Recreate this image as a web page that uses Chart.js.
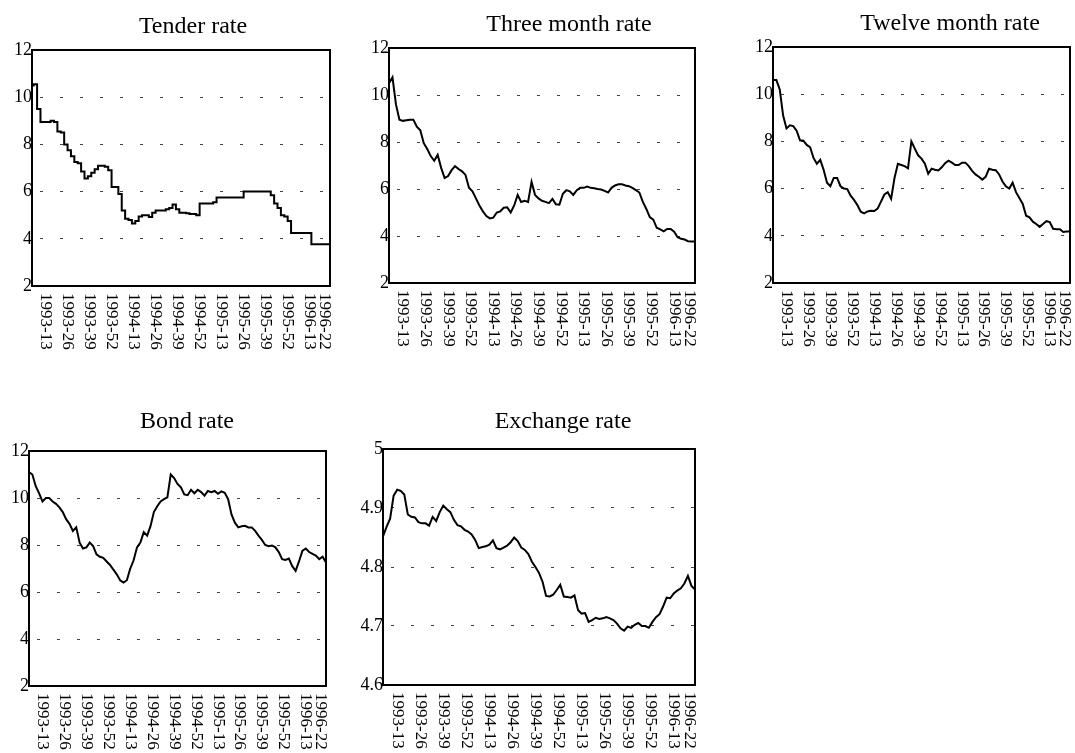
<!DOCTYPE html>
<html>
<head>
<meta charset="utf-8">
<script src="https://cdn.jsdelivr.net/npm/chart.js@4.4.0/dist/chart.umd.min.js"></script>
<style>
  html, body { margin: 0; padding: 0; background: #fff; overflow: hidden; }
  body { width: 1075px; height: 753px; position: relative; }
  canvas { position: absolute; }
</style>
</head>
<body>
<canvas id="tender"></canvas>
<canvas id="three"></canvas>
<canvas id="twelve"></canvas>
<canvas id="bond"></canvas>
<canvas id="exchange"></canvas>
<script>
// weekly series, one reading every second week
const firstWeek = '1993-05';
const lastWeek = '1996-25';
const weekStep = 2;
const tickLabels = ['1993-13', '1993-26', '1993-39', '1993-52', '1994-13', '1994-26', '1994-39',
  '1994-52', '1995-13', '1995-26', '1995-39', '1995-52', '1996-13', '1996-22'];

const rateTicks = [2, 4, 6, 8, 10, 12];
const exchangeTicks = [4.6, 4.7, 4.8, 4.9, 5];

const tenderRate = [
  10.5, 10.55, 9.5, 8.95, 8.95, 8.95, 9.0, 8.95, 8.55, 8.5,
  8.0, 7.75, 7.5, 7.25, 7.2, 6.85, 6.55, 6.65, 6.8, 6.95,
  7.1, 7.1, 7.05, 6.9, 6.2, 6.2, 5.9, 5.2, 4.85, 4.8,
  4.65, 4.75, 4.95, 5.0, 5.0, 4.92, 5.1, 5.2, 5.2, 5.2,
  5.25, 5.3, 5.45, 5.25, 5.1, 5.1, 5.08, 5.05, 5.05, 5.0,
  5.5, 5.5, 5.5, 5.5, 5.55, 5.75, 5.75, 5.75, 5.75, 5.75,
  5.75, 5.75, 5.75, 6.0, 6.0, 6.0, 6.0, 6.0, 6.0, 6.0,
  6.0, 5.85, 5.5, 5.3, 5.0, 4.95, 4.75, 4.25, 4.25, 4.25,
  4.25, 4.25, 4.25, 3.77, 3.77, 3.77, 3.77, 3.77, 3.77
];
const threeMonthRate = [
  10.5, 10.75, 9.6, 8.95, 8.9, 8.93, 8.95, 8.95, 8.65, 8.5,
  7.95, 7.7, 7.4, 7.2, 7.45, 6.9, 6.47, 6.55, 6.8, 6.97,
  6.85, 6.75, 6.6, 6.05, 5.9, 5.6, 5.3, 5.05, 4.85, 4.75,
  4.78, 5.0, 5.05, 5.2, 5.22, 5.0, 5.3, 5.75, 5.45, 5.5,
  5.45, 6.3, 5.75, 5.6, 5.5, 5.45, 5.4, 5.58, 5.35, 5.33,
  5.8, 5.95, 5.9, 5.75, 5.95, 6.05, 6.05, 6.1, 6.05, 6.03,
  6.0, 5.98, 5.92, 5.85, 6.05, 6.15, 6.2, 6.2, 6.15, 6.12,
  6.05, 5.95, 5.85, 5.45, 5.15, 4.8, 4.7, 4.35, 4.28, 4.2,
  4.3, 4.3, 4.18, 3.95, 3.88, 3.85, 3.78, 3.77, 3.77
];
const twelveMonthRate = [
  10.6, 10.6, 10.2, 9.1, 8.55, 8.68, 8.65, 8.45, 8.05, 8.03,
  7.85, 7.75, 7.3, 7.05, 7.22, 6.8, 6.25, 6.1, 6.45, 6.45,
  6.1, 6.0, 5.98, 5.7, 5.52, 5.3, 5.02, 4.95, 5.03, 5.06,
  5.05, 5.15, 5.45, 5.75, 5.85, 5.57, 6.45, 7.05, 7.0, 6.95,
  6.86, 8.0, 7.7, 7.41, 7.27, 7.06, 6.63, 6.84, 6.8, 6.77,
  6.9, 7.08, 7.18, 7.1, 7.0, 7.0, 7.1, 7.1, 6.95, 6.75,
  6.6, 6.5, 6.38, 6.5, 6.84, 6.8, 6.78, 6.6, 6.3, 6.1,
  6.0, 6.25, 5.85, 5.6, 5.35, 4.85, 4.78, 4.6, 4.5, 4.38,
  4.5, 4.62, 4.58, 4.3, 4.28, 4.28, 4.16, 4.18, 4.18
];
const bondRate = [
  11.1, 11.0, 10.5, 10.2, 9.85, 10.0, 10.0, 9.85, 9.75, 9.6,
  9.4, 9.1, 8.9, 8.6, 8.75, 8.1, 7.85, 7.9, 8.1, 7.95,
  7.6, 7.5, 7.45, 7.3, 7.15, 6.95, 6.75, 6.5, 6.4, 6.5,
  7.0, 7.35, 7.9, 8.1, 8.55, 8.4, 8.8, 9.4, 9.65, 9.85,
  9.95, 10.03, 11.0, 10.85, 10.6, 10.45, 10.15, 10.12, 10.35, 10.2,
  10.35, 10.25, 10.1, 10.3, 10.25, 10.3, 10.18, 10.28, 10.22, 9.95,
  9.3, 8.95, 8.75, 8.8, 8.82, 8.75, 8.75, 8.6, 8.4, 8.22,
  8.0, 7.95, 7.98, 7.9, 7.7, 7.4, 7.36, 7.42, 7.1, 6.9,
  7.3, 7.75, 7.85, 7.7, 7.62, 7.55, 7.4, 7.5, 7.25
];
const exchangeRate = [
  4.852, 4.868, 4.882, 4.921, 4.931, 4.929, 4.923, 4.889, 4.885, 4.884,
  4.876, 4.874, 4.874, 4.870, 4.885, 4.878, 4.893, 4.904, 4.898, 4.893,
  4.880, 4.871, 4.869, 4.863, 4.860, 4.855, 4.846, 4.832, 4.834, 4.835,
  4.838, 4.845, 4.832, 4.830, 4.833, 4.836, 4.842, 4.850, 4.844, 4.833,
  4.829, 4.822, 4.809, 4.800, 4.790, 4.775, 4.751, 4.750, 4.753, 4.761,
  4.770, 4.750, 4.749, 4.748, 4.752, 4.727, 4.721, 4.722, 4.707, 4.710,
  4.714, 4.712, 4.713, 4.715, 4.713, 4.710, 4.704, 4.696, 4.692, 4.699,
  4.697, 4.702, 4.705, 4.700, 4.700, 4.697, 4.707, 4.715, 4.720, 4.733,
  4.748, 4.747, 4.755, 4.760, 4.764, 4.772, 4.785, 4.768, 4.762
];

function weekIndex(label) {
  const [y, w] = label.split('-').map(Number);
  return (y - 1993) * 52 + w - 1;
}

// layout: frame = [left, top, right, bottom] of the plot box, titleAt = text centre
const panels = [
  { id: 'tender', title: 'Tender rate', values: tenderRate, ticks: rateTicks,
    frame: [32, 50, 330, 286], titleAt: [193, 27], stepped: 'middle' },
  { id: 'three', title: 'Three month rate', values: threeMonthRate, ticks: rateTicks,
    frame: [389, 48, 695, 283], titleAt: [569, 25] },
  { id: 'twelve', title: 'Twelve month rate', values: twelveMonthRate, ticks: rateTicks,
    frame: [773, 47, 1070, 283], titleAt: [950, 24] },
  { id: 'bond', title: 'Bond rate', values: bondRate, ticks: rateTicks,
    frame: [29, 451, 326, 686], titleAt: [187, 422] },
  { id: 'exchange', title: 'Exchange rate', values: exchangeRate, ticks: exchangeTicks,
    frame: [383, 449, 695, 685], titleAt: [563, 422] }
];

const YW = 30, TOP = 60, RIGHT = 4, XH = 75;
const serif = "'Liberation Serif', 'Times New Roman', serif";

panels.forEach(p => {
  const [l, t, r, b] = p.frame;
  const canvas = document.getElementById(p.id);
  const left = l - YW, top = t - TOP;
  canvas.width = r - left + RIGHT;
  canvas.height = b - top + XH;
  canvas.style.left = left + 'px';
  canvas.style.top = top + 'px';

  const x0 = weekIndex(firstWeek);

  new Chart(canvas, {
    type: 'line',
    data: {
      datasets: [{
        data: p.values.map((v, i) => ({ x: x0 + i * weekStep, y: v })),
        borderColor: '#000',
        borderWidth: 2,
        pointRadius: 0,
        tension: 0,
        stepped: p.stepped || false
      }]
    },
    options: {
      responsive: false,
      animation: false,
      layout: { padding: { left: 0, top: TOP, right: RIGHT, bottom: 0 } },
      plugins: { legend: { display: false }, tooltip: { enabled: false } },
      scales: {
        x: {
          type: 'linear',
          min: x0,
          max: weekIndex(lastWeek),
          grid: { display: false },
          border: { display: false },
          ticks: { display: false },
          afterFit: s => { s.height = XH; }
        },
        y: {
          min: p.ticks[0],
          max: p.ticks[p.ticks.length - 1],
          afterBuildTicks: s => { s.ticks = p.ticks.map(v => ({ value: v })); },
          afterFit: s => { s.width = YW; },
          border: { display: false, dash: [3, 17], dashOffset: -8 },
          grid: { color: '#444', lineWidth: 1, drawTicks: false },
          ticks: {
            color: '#000',
            padding: 0,
            font: { family: serif, size: 18 },
            callback: v => String(v)
          }
        }
      }
    },
    plugins: [{
      id: 'paper',
      afterDatasetsDraw(chart) {
        const { ctx, chartArea: a } = chart;
        ctx.save();
        ctx.strokeStyle = '#000';
        ctx.lineWidth = 2;
        ctx.strokeRect(a.left, a.top, a.right - a.left, a.bottom - a.top);
        ctx.restore();
      },
      afterDraw(chart) {
        const { ctx, chartArea: a, scales: { x } } = chart;
        ctx.save();
        ctx.fillStyle = '#000';
        ctx.font = '24px ' + serif;
        ctx.textAlign = 'center';
        ctx.textBaseline = 'middle';
        ctx.fillText(p.title, p.titleAt[0] - left, p.titleAt[1] - top);

        // week labels read top to bottom
        ctx.font = '17px ' + serif;
        ctx.textAlign = 'left';
        tickLabels.forEach(lab => {
          const px = x.getPixelForValue(weekIndex(lab));
          ctx.save();
          ctx.translate(px, a.bottom + 7);
          ctx.rotate(Math.PI / 2);
          ctx.fillText(lab, 0, 0);
          ctx.restore();
        });
        ctx.restore();
      }
    }]
  });
});
</script>
</body>
</html>
